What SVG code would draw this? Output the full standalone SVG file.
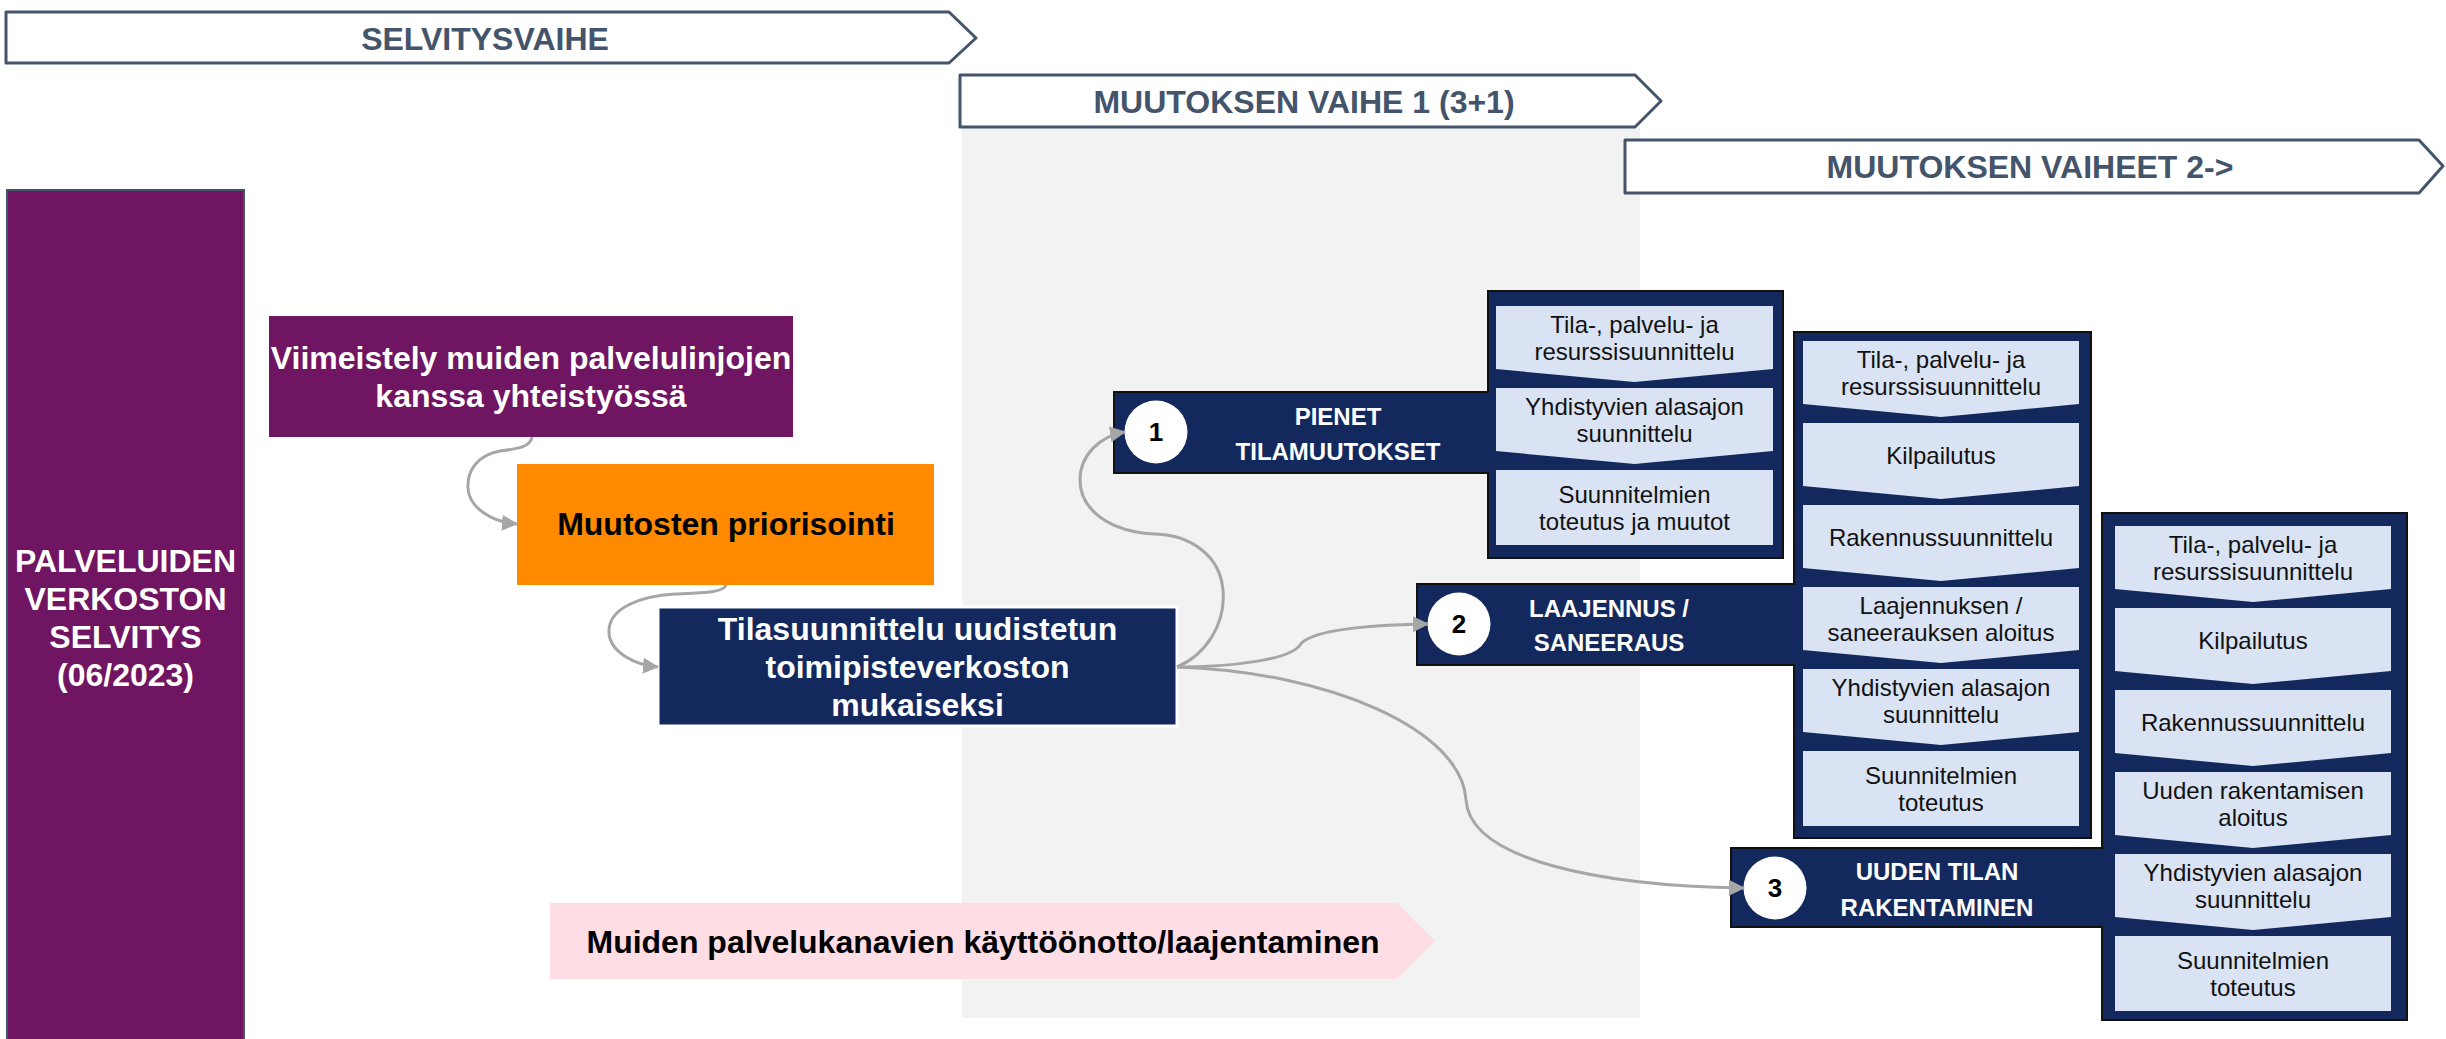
<svg xmlns="http://www.w3.org/2000/svg" width="2446" height="1039" viewBox="0 0 2446 1039">
<defs>
<style>
.hdr{fill:#fff;stroke:#44546A;stroke-width:3;stroke-linejoin:round}
.hdrt{font-family:"Liberation Sans",Arial,sans-serif;font-weight:bold;font-size:32px;fill:#44546A;text-anchor:middle}
.bt{font-family:"Liberation Sans",Arial,sans-serif;font-weight:bold;font-size:32px;text-anchor:middle}
.w{fill:#fff}
.k{fill:#000}
.navy{fill:#13295E}
.grp{fill:#13295E;stroke:#111;stroke-width:2}
.item{fill:#DAE3F3}
.it{font-family:"Liberation Sans",Arial,sans-serif;font-size:24px;fill:#111;text-anchor:middle}
.ht{font-family:"Liberation Sans",Arial,sans-serif;font-weight:bold;font-size:24px;fill:#fff;text-anchor:middle}
.num{font-family:"Liberation Sans",Arial,sans-serif;font-weight:bold;font-size:26px;fill:#000;text-anchor:middle}
.con{fill:none;stroke:#A6A6A6;stroke-width:3;marker-end:url(#ah)}
</style>
<marker id="ah" markerUnits="userSpaceOnUse" viewBox="0 0 16 16" markerWidth="16" markerHeight="16" refX="15" refY="8" orient="auto">
<path d="M0,0 L16,8 L0,16 Z" fill="#A6A6A6"/>
</marker>
</defs>

<rect id="phase1-area" x="962" y="128" width="678" height="890" fill="#F2F2F2"/>

<g id="selvitysvaihe">
<path class="hdr" d="M6,12 H949 L976,38 L949,63 H6 Z"/>
<text class="hdrt" x="485" y="50">SELVITYSVAIHE</text>
</g>
<g id="muutoksen-vaihe-1">
<path class="hdr" d="M960,75 H1635 L1661,101 L1635,127 H960 Z"/>
<text class="hdrt" x="1304" y="113">MUUTOKSEN VAIHE 1 (3+1)</text>
</g>
<g id="muutoksen-vaiheet-2">
<path class="hdr" d="M1625,140 H2419 L2443,166 L2419,193 H1625 Z"/>
<text class="hdrt" x="2030" y="178">MUUTOKSEN VAIHEET 2-&gt;</text>
</g>

<g id="palveluiden-verkoston-selvitys">
<rect x="7" y="190" width="237" height="860" fill="#701561" stroke="#44546A" stroke-width="2"/>
<text class="bt w" x="125.5" y="572">PALVELUIDEN</text>
<text class="bt w" x="125.5" y="610">VERKOSTON</text>
<text class="bt w" x="125.5" y="648">SELVITYS</text>
<text class="bt w" x="125.5" y="686">(06/2023)</text>
</g>

<g id="viimeistely">
<rect x="269" y="316" width="524" height="121" fill="#701561"/>
<text class="bt w" x="531" y="369">Viimeistely muiden palvelulinjojen</text>
<text class="bt w" x="531" y="407">kanssa yhteistyössä</text>
</g>

<g id="priorisointi">
<rect x="517" y="464" width="417" height="121" fill="#FF8A00"/>
<text class="bt k" x="726" y="535">Muutosten priorisointi</text>
</g>

<g id="tilasuunnittelu">
<rect x="658" y="607" width="519" height="119" fill="#13295E" stroke="#fff" stroke-width="3"/>
<text class="bt w" x="917.5" y="640">Tilasuunnittelu uudistetun</text>
<text class="bt w" x="917.5" y="678">toimipisteverkoston</text>
<text class="bt w" x="917.5" y="716">mukaiseksi</text>
</g>

<g id="muut-palvelukanavat">
<path d="M550,903 H1397 L1435,941 L1397,979 H550 Z" fill="#FFDDE4"/>
<text class="bt k" x="983" y="953">Muiden palvelukanavien käyttöönotto/laajentaminen</text>
</g>

<g id="pienet-tilamuutokset">
<path class="grp" d="M1114,392 H1488 V291 H1783 V558 H1488 V473 H1114 Z"/>
<circle cx="1156" cy="432" r="31.5" fill="#fff"/>
<text class="num" x="1156" y="441">1</text>
<text class="ht" x="1338" y="425">PIENET</text>
<text class="ht" x="1338" y="460">TILAMUUTOKSET</text>
<path class="item" d="M1496,306 H1773 V369 L1634.5,382 L1496,369 Z"/>
<path class="item" d="M1496,388 H1773 V451 L1634.5,464 L1496,451 Z"/>
<rect class="item" x="1496" y="470" width="277" height="75"/>
<text class="it" x="1634.5" y="333">Tila-, palvelu- ja</text>
<text class="it" x="1634.5" y="360">resurssisuunnittelu</text>
<text class="it" x="1634.5" y="415">Yhdistyvien alasajon</text>
<text class="it" x="1634.5" y="442">suunnittelu</text>
<text class="it" x="1634.5" y="503">Suunnitelmien</text>
<text class="it" x="1634.5" y="530">toteutus ja muutot</text>
</g>

<g id="laajennus-saneeraus">
<path class="grp" d="M1417,584 H1794 V332 H2091 V838 H1794 V665 H1417 Z"/>
<circle cx="1459" cy="624" r="31.5" fill="#fff"/>
<text class="num" x="1459" y="633">2</text>
<text class="ht" x="1609" y="617">LAAJENNUS /</text>
<text class="ht" x="1609" y="651">SANEERAUS</text>
<path class="item" d="M1803,341 H2079 V404 L1941,417 L1803,404 Z"/>
<path class="item" d="M1803,423 H2079 V486 L1941,499 L1803,486 Z"/>
<path class="item" d="M1803,505 H2079 V568 L1941,581 L1803,568 Z"/>
<path class="item" d="M1803,587 H2079 V650 L1941,663 L1803,650 Z"/>
<path class="item" d="M1803,669 H2079 V732 L1941,745 L1803,732 Z"/>
<rect class="item" x="1803" y="751" width="276" height="75"/>
<text class="it" x="1941" y="368">Tila-, palvelu- ja</text>
<text class="it" x="1941" y="395">resurssisuunnittelu</text>
<text class="it" x="1941" y="464">Kilpailutus</text>
<text class="it" x="1941" y="546">Rakennussuunnittelu</text>
<text class="it" x="1941" y="614">Laajennuksen /</text>
<text class="it" x="1941" y="641">saneerauksen aloitus</text>
<text class="it" x="1941" y="696">Yhdistyvien alasajon</text>
<text class="it" x="1941" y="723">suunnittelu</text>
<text class="it" x="1941" y="784">Suunnitelmien</text>
<text class="it" x="1941" y="811">toteutus</text>
</g>

<g id="uuden-tilan-rakentaminen">
<path class="grp" d="M1731,848 H2102 V513 H2407 V1020 H2102 V927 H1731 Z"/>
<circle cx="1775" cy="888" r="31.5" fill="#fff"/>
<text class="num" x="1775" y="897">3</text>
<text class="ht" x="1937" y="880">UUDEN TILAN</text>
<text class="ht" x="1937" y="916">RAKENTAMINEN</text>
<path class="item" d="M2115,526 H2391 V589 L2253,602 L2115,589 Z"/>
<path class="item" d="M2115,608 H2391 V671 L2253,684 L2115,671 Z"/>
<path class="item" d="M2115,690 H2391 V753 L2253,766 L2115,753 Z"/>
<path class="item" d="M2115,772 H2391 V835 L2253,848 L2115,835 Z"/>
<path class="item" d="M2115,854 H2391 V917 L2253,930 L2115,917 Z"/>
<rect class="item" x="2115" y="936" width="276" height="75"/>
<text class="it" x="2253" y="553">Tila-, palvelu- ja</text>
<text class="it" x="2253" y="580">resurssisuunnittelu</text>
<text class="it" x="2253" y="649">Kilpailutus</text>
<text class="it" x="2253" y="731">Rakennussuunnittelu</text>
<text class="it" x="2253" y="799">Uuden rakentamisen</text>
<text class="it" x="2253" y="826">aloitus</text>
<text class="it" x="2253" y="881">Yhdistyvien alasajon</text>
<text class="it" x="2253" y="908">suunnittelu</text>
<text class="it" x="2253" y="969">Suunnitelmien</text>
<text class="it" x="2253" y="996">toteutus</text>
</g>

<g id="connectors">
<path class="con" d="M532,437 C530,448 515,449 500,451 C478,455 467,470 468,488 C469,508 492,522 517,524"/>
<path class="con" d="M726,585 C724,593 700,593 675,594 C640,596 610,608 609,630 C608,652 635,665 658,667"/>
<path class="con" d="M1177,667 C1205,655 1226,625 1223,590 C1220,555 1190,535 1155,534 C1110,532 1080,510 1080,480 C1080,455 1100,436 1125,432"/>
<path class="con" d="M1177,667 C1230,667 1290,660 1300,645 C1310,630 1370,625 1428,624"/>
<path class="con" d="M1177,667 C1330,672 1462,730 1466,800 C1470,860 1600,886 1744,888"/>
</g>
</svg>
